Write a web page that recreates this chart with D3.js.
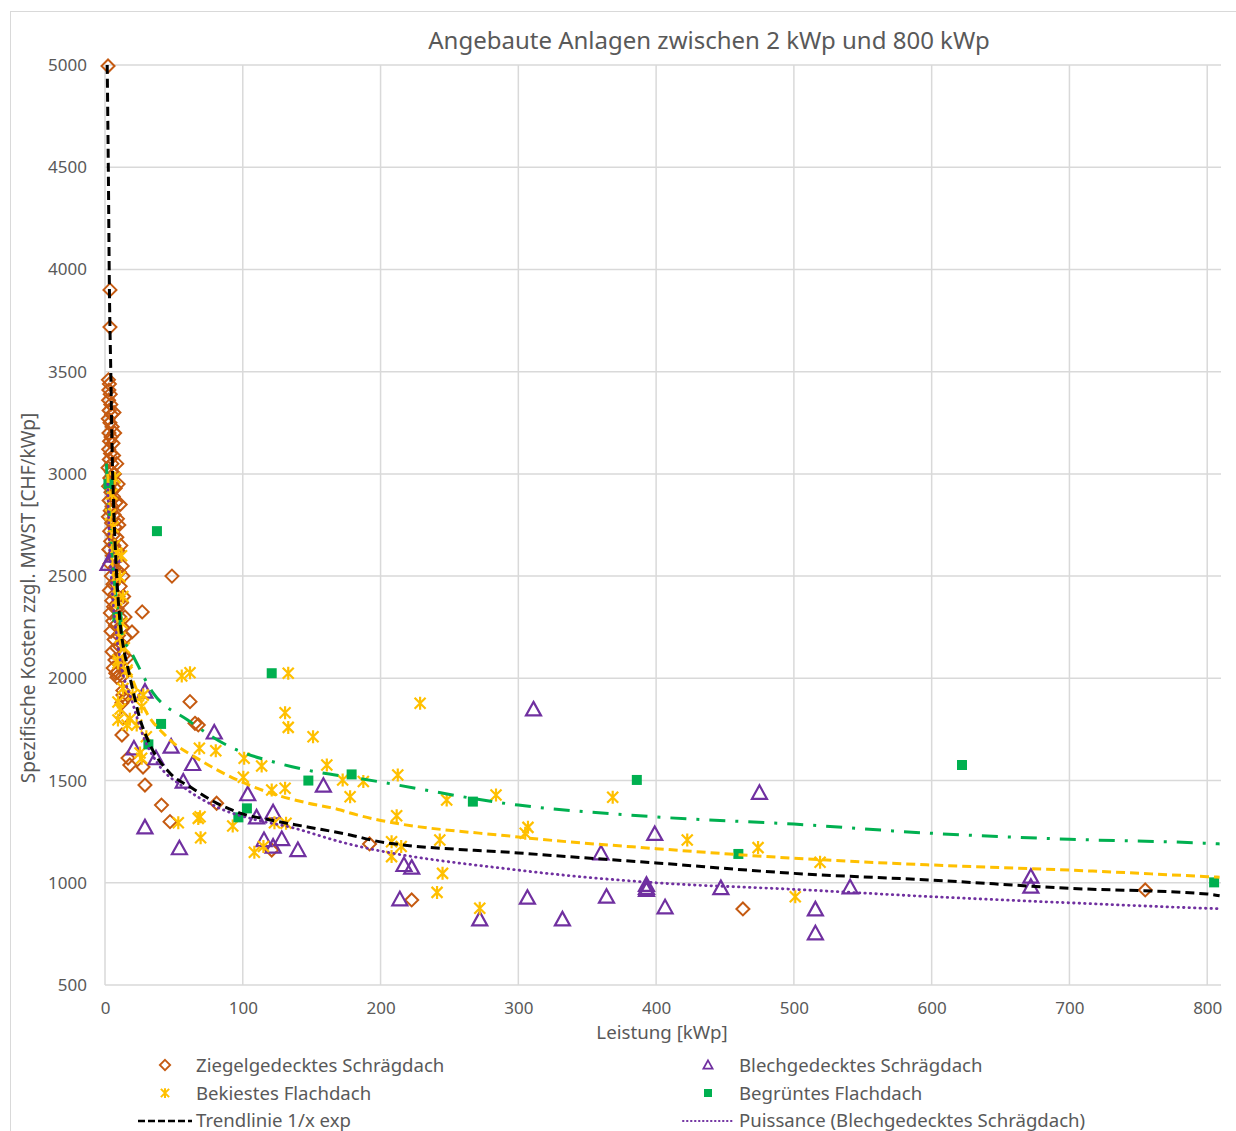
<!DOCTYPE html>
<html>
<head>
<meta charset="utf-8">
<script src="https://cdn.jsdelivr.net/npm/d3@7"></script>
<style>
  body { margin: 0; background: #fff; }
  text { font-family: "Noto Sans", "Open Sans", sans-serif; fill: #595959; }
</style>
</head>
<body>
<div id="container"></div>
<script>
// data: [kWp, CHF/kWp]
const ziegel = [
  [2.2,4995],[3.6,3900],[3.6,3718],
  [2.5,3460],[3.2,3440],[2.8,3410],[3.8,3390],[2.6,3360],[4.2,3340],[3.0,3310],[4.8,3290],[2.4,3270],
  [3.6,3250],[5.2,3230],[2.9,3200],[4.4,3180],[3.3,3160],[5.8,3150],[2.7,3120],[4.0,3100],[6.2,3090],
  [3.1,3070],[5.0,3050],[2.2,3030],[4.6,3010],[6.8,3000],[3.5,2980],[5.5,2960],[2.6,2940],[7.4,2930],
  [4.3,2910],[6.0,2890],[3.0,2870],[8.0,2860],[5.2,2840],[3.8,2820],[6.6,2800],[2.5,2790],[9.0,2780],
  [4.8,2760],[7.2,2740],[3.4,2720],[5.9,2700],[8.6,2690],[4.1,2670],[6.4,2650],[2.8,2630],[9.6,2620],
  [5.4,2600],[7.8,2580],[3.6,2560],[6.9,2540],[10.4,2520],[4.6,2500],[8.2,2480],[5.8,2460],[11.0,2450],
  [3.2,2430],[7.0,2410],[9.4,2400],[4.9,2380],[12.0,2370],[6.2,2350],[8.8,2340],[3.9,2320],[10.8,2300],
  [5.6,2280],[7.6,2260],[12.6,2250],[4.4,2230],[9.8,2210],[6.6,2190],[11.6,2170],[8.4,2150],[5.2,2130],
  [13.2,2110],[7.2,2090],[10.2,2070],[6.0,2050],[9.0,2030],[12.4,2010],[7.8,2025],[8.7,2005],
  [6.5,3300],[7,3200],[8.5,3050],[9.5,2950],[11,2850],[10,2750],[11.5,2650],[12.5,2550],[13,2500],
  [13.5,2400],[14.5,2300],[15,2200],[16,2100],
  [13.0,1940],[13.0,1918],[14.5,1900],[12.3,1880],[13,1806],[12.3,1723],[16.7,1610],[18,1576],
  [27.6,1566],[29,1478],[41,1380],[47.2,1299],[27,2325],[48.6,2500],[19.6,2227],
  [61.7,1886],[65.3,1780],[67.7,1772],[81,1389],[121,1160],[192,1190],[222.6,916],[463,872],[755,965]
];
const blech = [
  [2.2,2560],[5.5,2600],[29,1935],[79.3,1735],[21,1657],[48,1666],[37,1609],[63.6,1581],[56.8,1495],
  [158.5,1475],[103.6,1433],[110,1320],[122,1345],[29,1271],[54,1169],[115.4,1209],[122,1177],
  [128.3,1214],[140,1160],[311,1848],[399,1239],[360,1144],[217,1087],[222.6,1074],[214,919],
  [272,821],[306.6,927],[332,821],[364,932],[393,990],[393,975],[393,965],[406.5,880],[475,1440],
  [447,974],[515.6,870],[515.6,753],[540.8,978],[672,1030],[672,981]
];
const bekiest = [
  [7.3,2980],[5,2900],[4,2800],[6,2740],[7,2650],[8.5,2613],[12,2600],[10.9,2496],[13,2400],[8.5,2383],
  [12.3,2270],[11,2200],[14,2150],[9.4,2090],[9.4,2075],[16,2031],[16,2041],[13,1950],[20,1920],[9.4,1884],
  [11,1850],[9.4,1796],[16,1772],[23,1772],[18,1800],[25.4,1635],
  [55.7,2011],[61.7,2027],[133,2025],[27.8,1918],[130.7,1832],[133,1760],[151,1714],[26.6,1861],
  [30,1714],[68.5,1658],[80.4,1646],[26.6,1609],[101,1609],[113.7,1571],[161,1576],[100.4,1516],
  [121,1454],[130.7,1462],[53.2,1294],[67.7,1315],[69,1323],[92.7,1278],[123,1294],[131.4,1291],
  [69.4,1220],[108.4,1149],[115,1177],[228.7,1878],[212.5,1527],[187.5,1495],[172.5,1503],
  [177.9,1421],[248,1405],[283.8,1429],[368.5,1418],[211.7,1328],[307,1271],[305,1242],[243,1209],
  [208,1201],[215,1177],[208,1128],[245,1046],[241,953],[272,875],[422.6,1209],[474,1172],
  [519,1100],[501,932]
];
const begruent = [
  [2.5,2950],[9,2300],[37.7,2720],[40.7,1777],[31.5,1677],[121,2025],[147.6,1500],[103,1364],
  [96.8,1320],[179,1530],[267,1397],[386,1503],[459.7,1141],[622,1576],[805,1002]
];

// trend lines
const trendExp = [
  [1.6,5000],[2.4,4500],[3.2,3900],[4.2,3500],[5.2,3100],[6.5,2800],[8.5,2500],[11,2270],[14,2130],
  [17,2040],[21,1920],[25,1810],[31,1700],[47,1537],[62,1468],[81,1390],[98,1341],[120,1307],
  [147,1273],[178,1234],[200,1200],[300,1146],[400,1097],[500,1046],[600,1013],[700,973],[800,945],[809,937]
];
const trendBlech = [
  [2,2950],[3,2700],[5,2450],[8,2230],[11,2090],[20,1880],[28,1713],[38,1586],[57,1468],[81,1371],
  [110,1307],[134,1273],[171,1200],[300,1062],[400,1000],[500,968],[600,932],[700,902],[800,875],[809,873]
];
const trendBekiest = [
  [2,3000],[4,2700],[7,2400],[11,2180],[15,2060],[20,1992],[28,1860],[45,1713],[69,1600],[96,1503],
  [120,1439],[147,1390],[171,1356],[178,1341],[300,1224],[400,1167],[500,1120],[600,1087],[700,1062],
  [800,1030],[809,1027]
];
const trendBegruent = [
  [1,3050],[4,2700],[8,2400],[13,2200],[18,2140],[35,1928],[60,1796],[91,1664],[125,1586],[158,1537],
  [178,1517],[300,1380],[400,1322],[500,1287],[600,1242],[700,1213],[800,1193],[809,1190]
];

const xTicks = [0,100,200,300,400,500,600,700,800];
const yTicks = [500,1000,1500,2000,2500,3000,3500,4000,4500,5000];

const width = 1236, height = 1131;
const plot = { left: 105, right: 1221, top: 65, bottom: 985 };

const svg = d3.select("#container").append("svg")
  .attr("width", width).attr("height", height);

svg.append("rect").attr("x", 10.5).attr("y", 11.5)
  .attr("width", 1240).attr("height", 1140)
  .attr("fill", "#fff").attr("stroke", "#d9d9d9").attr("stroke-width", 1);

const x = d3.scaleLinear().domain([0, 810]).range([plot.left, plot.right]);
const y = d3.scaleLinear().domain([500, 5000]).range([plot.bottom, plot.top]);

// grid
const grid = svg.append("g");
grid.selectAll(".hg").data(yTicks).enter().append("line")
  .attr("x1", plot.left).attr("x2", plot.right)
  .attr("y1", d => y(d)).attr("y2", d => y(d))
  .attr("stroke", "#d9d9d9").attr("stroke-width", 1.5);
grid.selectAll(".vg").data(xTicks).enter().append("line")
  .attr("x1", d => x(d)).attr("x2", d => x(d))
  .attr("y1", plot.top).attr("y2", plot.bottom)
  .attr("stroke", "#d9d9d9").attr("stroke-width", 1.5);

// axes (labels only, lines are the grid)
const xAxis = svg.append("g").attr("transform", "translate(0," + plot.bottom + ")")
  .call(d3.axisBottom(x).tickValues(xTicks).tickFormat(d3.format("d")).tickSize(0).tickPadding(17));
const yAxis = svg.append("g").attr("transform", "translate(" + plot.left + ",0)")
  .call(d3.axisLeft(y).tickValues(yTicks).tickFormat(d3.format("d")).tickSize(0).tickPadding(18));
[xAxis, yAxis].forEach(a => {
  a.select(".domain").remove();
  a.selectAll("text").style("font-size", "17px").attr("fill", "#595959")
    .style("font-family", "'Noto Sans', sans-serif");
});

svg.append("text").attr("x", 709).attr("y", 49).attr("text-anchor", "middle")
  .style("font-size", "24px").text("Angebaute Anlagen zwischen 2 kWp und 800 kWp");
svg.append("text").attr("x", 662).attr("y", 1039).attr("text-anchor", "middle")
  .style("font-size", "18.7px").text("Leistung [kWp]");
svg.append("text").attr("transform", "translate(35,598)rotate(-90)").attr("text-anchor", "middle")
  .style("font-size", "19px").text("Spezifische Kosten zzgl. MWST [CHF/kWp]");

// marker shapes
const diamondPath = "M0,-6.5L6.5,0L0,6.5L-6.5,0Z";
const trianglePath = "M0,-7.5L7.5,6L-7.5,6Z";
const starPath = "M-5.5,-5.5L5.5,5.5M-5.5,5.5L5.5,-5.5M0,-6.5L0,6.5";
const squarePath = "M-5,-5H5V5H-5Z";

const series = [
  { data: ziegel, path: diamondPath, stroke: "#c55a11", fill: "none", sw: 2 },
  { data: blech, path: trianglePath, stroke: "#7030a0", fill: "none", sw: 2.2 },
  { data: bekiest, path: starPath, stroke: "#ffc000", fill: "none", sw: 2.2 },
  { data: begruent, path: squarePath, stroke: "none", fill: "#00b050", sw: 0 }
];

series.forEach(s => {
  svg.append("g").selectAll("path").data(s.data).enter().append("path")
    .attr("d", s.path)
    .attr("transform", d => "translate(" + x(d[0]) + "," + y(d[1]) + ")")
    .attr("fill", s.fill).attr("stroke", s.stroke).attr("stroke-width", s.sw);
});

const line = d3.line().x(d => x(d[0])).y(d => y(d[1])).curve(d3.curveMonotoneX);
const trends = [
  { data: trendBegruent, color: "#00b050", dash: "16,10,3,10", w: 3, cap: "butt" },
  { data: trendBekiest, color: "#ffc000", dash: "9,5", w: 3, cap: "butt" },
  { data: trendBlech, color: "#7030a0", dash: "0.5,5", w: 2.8, cap: "round" },
  { data: trendExp, color: "#000", dash: "9,5", w: 3, cap: "butt" }
];
trends.forEach(t => {
  svg.append("path").datum(t.data).attr("d", line)
    .attr("fill", "none").attr("stroke", t.color).attr("stroke-width", t.w)
    .attr("stroke-dasharray", t.dash).attr("stroke-linecap", t.cap);
});

// legend
const legend = svg.append("g");
const legItems = [
  { label: "Ziegelgedecktes Schrägdach", path: diamondPath, stroke: "#c55a11", fill: "none", sw: 1.8, x: 165, y: 1065, s: 0.8 },
  { label: "Blechgedecktes Schrägdach", path: trianglePath, stroke: "#7030a0", fill: "none", sw: 1.7, x: 708, y: 1065, s: 0.62 },
  { label: "Bekiestes Flachdach", path: starPath, stroke: "#ffc000", fill: "none", sw: 2, x: 165, y: 1093, s: 0.75 },
  { label: "Begrüntes Flachdach", path: squarePath, stroke: "none", fill: "#00b050", sw: 0, x: 708, y: 1093, s: 0.8 }
];
legItems.forEach(l => {
  legend.append("path").attr("d", l.path)
    .attr("transform", "translate(" + l.x + "," + l.y + ")scale(" + l.s + ")")
    .attr("fill", l.fill).attr("stroke", l.stroke).attr("stroke-width", l.sw / l.s);
  legend.append("text").attr("x", l.x + 31).attr("y", l.y + 7)
    .style("font-size", "18.6px").text(l.label);
});
const legLines = [
  { label: "Trendlinie 1/x exp", color: "#000", dash: "7,3", w: 2.5, cap: "butt", x1: 138, x2: 192, y: 1121, tx: 196 },
  { label: "Puissance (Blechgedecktes Schrägdach)", color: "#7030a0", dash: "0.5,3.5", w: 2, cap: "round", x1: 683, x2: 733, y: 1121, tx: 739 }
];
legLines.forEach(l => {
  legend.append("line").attr("x1", l.x1).attr("x2", l.x2).attr("y1", l.y).attr("y2", l.y)
    .attr("stroke", l.color).attr("stroke-width", l.w).attr("stroke-dasharray", l.dash)
    .attr("stroke-linecap", l.cap);
  legend.append("text").attr("x", l.tx).attr("y", l.y + 6)
    .style("font-size", "18.6px").text(l.label);
});
</script>
</body>
</html>
